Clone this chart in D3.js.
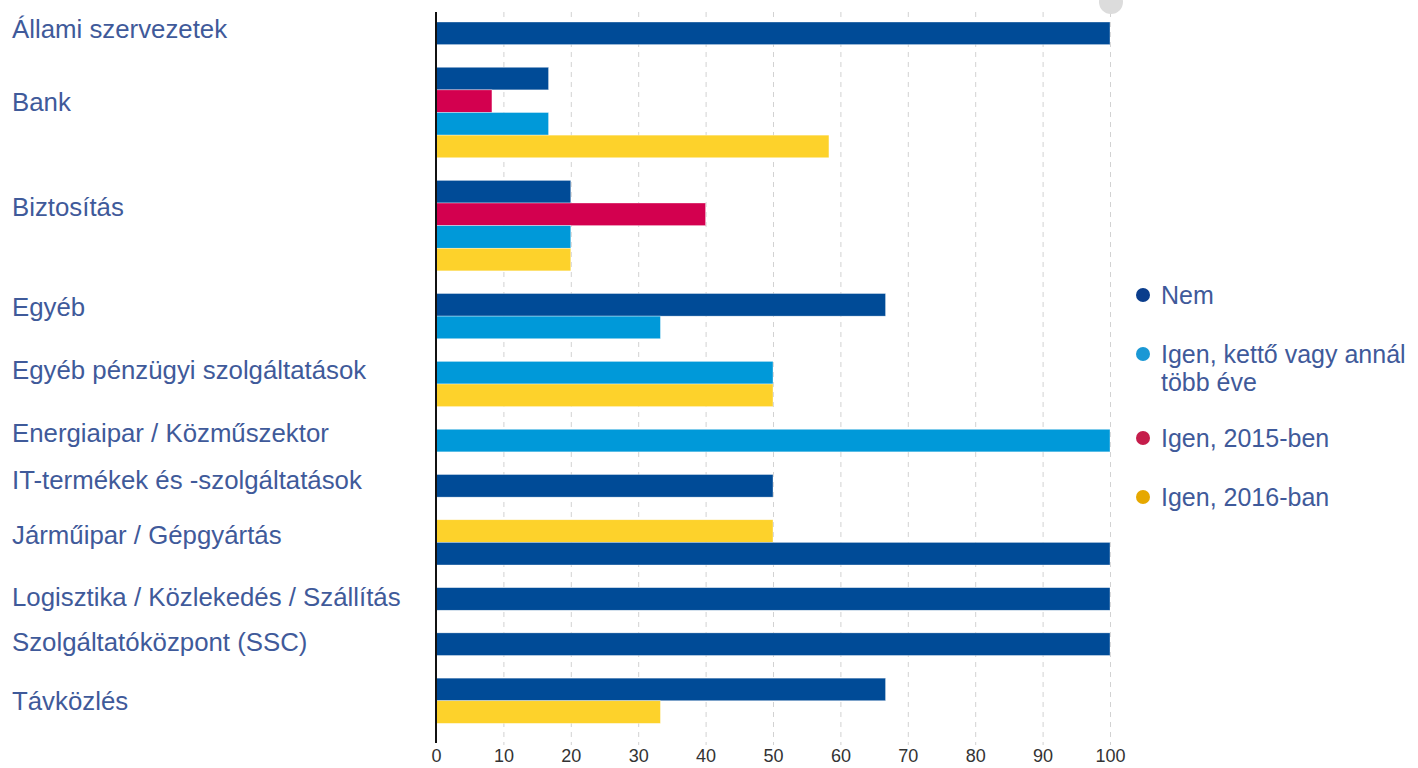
<!DOCTYPE html>
<html>
<head>
<meta charset="utf-8">
<script src="https://cdn.jsdelivr.net/npm/d3@7"></script>
<style>
  body { margin: 0; background: #fff; }
  text { font-family: "Liberation Sans", Arial, sans-serif; }
</style>
</head>
<body>
<script>
// categories and values (percent)
var categories = ["Állami szervezetek", "Bank", "Biztosítás", "Egyéb",
  "Egyéb pénzügyi szolgáltatások", "Energiaipar / Közműszektor",
  "IT-termékek és -szolgáltatások", "Járműipar / Gépgyártás",
  "Logisztika / Közlekedés / Szállítás", "Szolgáltatóközpont (SSC)", "Távközlés"];

var nem   = [100, 16.7, 20, 66.7, null, null, 50, 100, 100, 100, 66.7];
var ketto = [null, 16.7, 20, 33.3, 50, 100, null, null, null, null, null];
var y2015 = [null, 8.3, 40, null, null, null, null, null, null, null, null];
var y2016 = [null, 58.3, 20, null, 50, null, null, 50, null, null, 33.3];

// order in which the bars of a category are stacked downwards
var defaultOrder = ["nem", "y2015", "ketto", "y2016"];
var rowOrder = categories.map(function(c, i){
  return i === 7 ? ["y2016", "nem"] : defaultOrder;
});

var xTicks = [0, 10, 20, 30, 40, 50, 60, 70, 80, 90, 100];

var series = {
  nem:   {label: ["Nem"], values: nem, bar: "#004b97", dot: "#0a3d8c"},
  ketto: {label: ["Igen, kettő vagy annál", "több éve"], values: ketto, bar: "#0099d9", dot: "#1a98d5"},
  y2015: {label: ["Igen, 2015-ben"], values: y2015, bar: "#d3004f", dot: "#c51d4b"},
  y2016: {label: ["Igen, 2016-ban"], values: y2016, bar: "#fdd22b", dot: "#e6a800"}
};
var legendOrder = ["nem", "ketto", "y2015", "y2016"];

// label nudges (px) relative to the group's centre
var labelShift = [-5, -10.5, -18.5, -9, -14, -7.5, -6, -7.5, -2, -2, 0];

var textColor = "#3f5a9a";

// build rows: one row per bar, a blank row after each group
var rows = [];
var groups = [];
var r = 0;
categories.forEach(function(c, i){
  var start = r;
  rowOrder[i].forEach(function(k){
    var v = series[k].values[i];
    if (v != null) { rows.push({row: r, key: k, value: v}); r++; }
  });
  groups.push({name: c, start: start, end: r - 1, i: i});
  r++; // blank row
});
var rowCount = r;

var svg = d3.select("body")
  .append("svg")
  .attr("width", 1418)
  .attr("height", 768);

var x = d3.scaleLinear().domain([0, 100]).range([436, 1110]);
var y = d3.scaleBand().domain(d3.range(rowCount)).range([22, 746]).padding(0);

// dashed grid
svg.append("g")
  .selectAll("line")
  .data(xTicks.filter(function(t){ return t > 0; }))
  .enter().append("line")
  .attr("x1", function(d){ return x(d) + 0.5; })
  .attr("x2", function(d){ return x(d) + 0.5; })
  .attr("y1", 12)
  .attr("y2", 745)
  .style("stroke", "#d2d2d2")
  .style("stroke-width", 1)
  .style("stroke-dasharray", "5,5");

// bars
svg.append("g")
  .selectAll("rect")
  .data(rows)
  .enter().append("rect")
  .attr("x", x(0))
  .attr("y", function(d){ return y(d.row); })
  .attr("width", function(d){ return x(d.value) - x(0); })
  .attr("height", y.bandwidth())
  .style("fill", function(d){ return series[d.key].bar; })
  .style("stroke", "rgba(255,255,255,0.6)")
  .style("stroke-width", 0.6);

// y axis line
svg.append("line")
  .attr("x1", x(0)).attr("x2", x(0))
  .attr("y1", 12).attr("y2", 743)
  .style("stroke", "#111")
  .style("stroke-width", 2);

// x tick labels
var xAxis = d3.axisBottom(x).tickValues(xTicks).tickSize(0).tickPadding(0);
var gx = svg.append("g").attr("transform", "translate(0,747)").call(xAxis);
gx.select(".domain").remove();
gx.selectAll("text")
  .attr("dy", "0.85em")
  .style("font-family", "'Liberation Sans', Arial, sans-serif")
  .style("font-size", "18px")
  .style("fill", "#333");

// category labels
svg.append("g")
  .selectAll("text")
  .data(groups)
  .enter().append("text")
  .attr("x", 12)
  .attr("y", function(d){
    var mid = (y(d.start) + y(d.end) + y.bandwidth()) / 2;
    return mid + labelShift[d.i];
  })
  .attr("dy", "0.36em")
  .style("font-size", "25.8px")
  .style("fill", textColor)
  .text(function(d){ return d.name; });

// legend
var ly = 295;
legendOrder.forEach(function(k){
  var s = series[k];
  svg.append("circle")
    .attr("cx", 1143).attr("cy", ly)
    .attr("r", 7)
    .style("fill", s.dot);
  var t = svg.append("text")
    .attr("x", 1161)
    .attr("y", ly)
    .attr("dy", "0.36em")
    .style("font-size", "25px")
    .style("fill", textColor);
  s.label.forEach(function(line, j){
    t.append("tspan")
      .attr("x", 1161)
      .attr("dy", j === 0 ? "0.36em" : "28px")
      .text(line);
  });
  ly += 59 + (s.label.length - 1) * 25;
});

// faint close button at top
svg.append("circle")
  .attr("cx", 1111).attr("cy", 2)
  .attr("r", 12)
  .style("fill", "#dcdcdc");
</script>
</body>
</html>
